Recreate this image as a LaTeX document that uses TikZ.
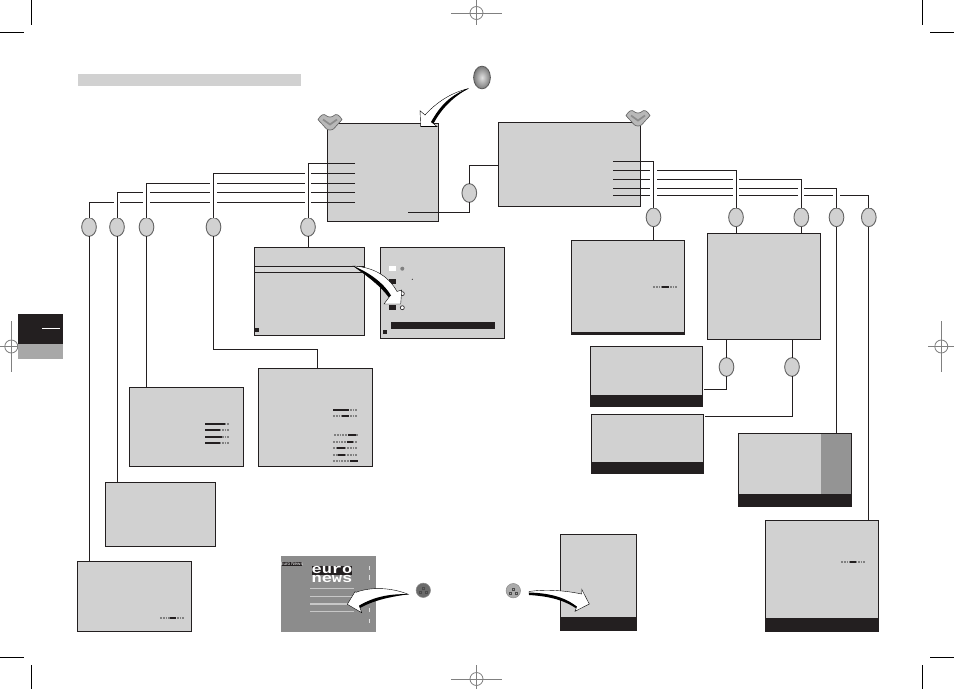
\documentclass[tikz,border=0pt]{standalone}
\usepackage{fontspec}
\setmainfont{Liberation Sans}
\setmonofont{Liberation Mono}
\usetikzlibrary{shapes.geometric,calc}
\definecolor{panel}{HTML}{D1D1D1}
\definecolor{ink}{HTML}{231F20}
\definecolor{regmark}{HTML}{808080}
\tikzset{
  x=0.75pt,y=-0.75pt,
  screen/.style={draw=ink,fill=panel,line width=0.8pt,inner sep=0pt,outer sep=0pt},
  wire/.style={draw=ink,line width=0.75pt},
  gapcut/.style={draw=white,line width=4.6pt},
  badge/.style={ellipse,draw=black!60,fill=panel,line width=0.7pt,minimum width=11pt,minimum height=14pt,inner sep=0pt,outer sep=0pt},
  crop/.style={draw=black,line width=0.75pt},
  reg/.style={draw=regmark,line width=0.6pt},
  curvefill/.style={fill=white,draw=black,line width=0.3pt,line join=miter},
  gaugedash/.style={draw=black!50,line width=1.4pt,dash pattern=on 1.4pt off 0.7pt},
  gaugebar/.style={draw=ink,line width=1.6pt}
}
% a menu panel given by its corners in pixels
\newcommand{\menupanel}[5]{\node[screen,minimum width={(#4-#2)*0.75pt},minimum height={(#5-#3)*0.75pt}] (#1) at ({(#2+#4)/2},{(#3+#5)/2}) {};}
% horizontal run from a menu line to a badge, with a break in the lines it crosses
\newcommand{\tapline}[2]{%
  \draw[gapcut] ([yshift=-3.5pt]#1 -| #2.north) -- (#2.north);
  \draw[wire] (#1) -| (#2.north);}
% level gauge: dashes, solid part, dashes
\newcommand{\levelgauge}[5]{%
  \draw[gaugedash] (#2,#1) -- (#5,#1);
  \draw[gaugebar] (#3,#1) -- (#4,#1);}
% registration target
\newcommand{\regtarget}[6]{%
  \draw[reg] (#1,#2) circle[radius=6.5];
  \draw[reg] (#3,#2) -- (#4,#2);
  \draw[reg] (#1,#5) -- (#1,#6);}
% menu button emblem
\newcommand{\emblem}[3]{%
  \begin{scope}[shift={(#2,#3)}]
    \node[inner sep=0pt,minimum size=0pt] (#1) at (0,0) {};
    \fill[black!28,draw=black!60,line width=0.5pt] (-12,-2) .. controls (-9,-7) and (-6,-8) .. (-4,-6) .. controls (-2,-4) and (2,-4) .. (4,-6) .. controls (6,-8) and (9,-7) .. (12,-2) .. controls (9,2) and (6,4) .. (4,7) .. controls (2,9) and (-2,9) .. (-4,7) .. controls (-6,4) and (-9,2) .. (-12,-2) -- cycle;
    \draw[black!45,line width=1.3pt] (-7,-2) -- (0,3) -- (7,-2);
  \end{scope}}
\begin{document}
\begin{tikzpicture}
\useasboundingbox[fill=white] (0,0) rectangle (954,689);

% trim marks
\draw[crop] (0,32.5) -- (24,32.5);
\draw[crop] (31.5,0) -- (31.5,24.5);
\draw[crop] (930,32.5) -- (954,32.5);
\draw[crop] (922.5,0) -- (922.5,24.5);
\draw[crop] (0,657.5) -- (24,657.5);
\draw[crop] (31.5,665) -- (31.5,689);
\draw[crop] (930,657.5) -- (954,657.5);
\draw[crop] (922.5,665) -- (922.5,689);

\regtarget{476.5}{13}{451}{502}{0}{25}
\regtarget{476.5}{679}{451}{502}{665}{689}
\regtarget{11.3}{346.5}{0}{24}{321}{372}
\regtarget{941.3}{346.5}{928}{954}{321}{372}

% side tab
\fill[ink] (18,314) rectangle (63,344);
\fill[black!34] (18,344) rectangle (63,359);
\draw[white,line width=0.75pt] (42,328.5) -- (60,328.5);

% heading strip
\fill[panel] (78,74) rectangle (301,85.5);

% menu panels
\menupanel{mainL}{327.5}{123.5}{438.5}{221.5}
\menupanel{mainR}{498.5}{122.5}{640.5}{206.5}
\menupanel{subA}{254.5}{247.5}{364.5}{335.5}
\menupanel{subB}{380.5}{247.5}{504.5}{338.5}
\menupanel{picH}{129.5}{387.5}{243.5}{466.5}
\menupanel{picI}{258.5}{368.5}{372.5}{466.5}
\menupanel{progJ}{105.5}{482.5}{215.5}{546.5}
\menupanel{progK}{77.5}{561.5}{191.5}{631.5}
\menupanel{setA}{571.5}{240.5}{684.5}{333.5}
\menupanel{setB}{707.5}{233.5}{820.5}{339.5}
\menupanel{setC}{590.5}{346.5}{702.5}{406.5}
\menupanel{setD}{591.5}{414.5}{703.5}{473.5}
\menupanel{setE}{738.5}{433.5}{851.5}{506.5}
\menupanel{setF}{765.5}{520.5}{878.5}{631.5}
\menupanel{setG}{560.5}{534.5}{636.5}{630.5}

% footer bands and shaded strip
\fill[ink] (571,332) rectangle (685,334.5);
\fill[ink] (590,394.5) rectangle (703,407);
\fill[ink] (591,462) rectangle (704,474);
\fill[black!42] (821,434) rectangle (851,494);
\fill[ink] (738,494) rectangle (852,507);
\fill[ink] (765,618) rectangle (879,632);
\fill[ink] (560,617) rectangle (637,631);

% contents of the two submenus
\draw[ink,line width=0.7pt,fill=panel!85!white] (254.5,266.5) rectangle (363,272.5);
\fill[white] (359.5,266.7) rectangle (363,269);
\fill[ink] (255,328) rectangle (259,332);
\fill[white] (389,265.5) rectangle (396,271);
\fill[black!50] (402.3,268.7) circle[radius=2];
\fill[ink] (412.3,279.3) circle[radius=0.6];
\fill[ink] (389,279) rectangle (396,283.7);
\fill[ink] (389,305) rectangle (396,310);
\draw[ink,fill=white,line width=0.5pt] (402.3,293.7) circle[radius=2];
\draw[ink,fill=white,line width=0.5pt] (402.3,307.7) circle[radius=2];
\fill[ink] (391,322) rectangle (495,329);
\fill[ink] (383,330) rectangle (387,334);

% level gauges
\levelgauge{423.7}{205}{205}{225}{230}
\levelgauge{429.7}{205}{205}{220}{230}
\levelgauge{437}{205}{205}{222}{229}
\levelgauge{442.7}{205}{205}{220}{230}
\levelgauge{410}{333}{333}{349.3}{357}
\levelgauge{416}{333}{341.7}{349.3}{357}
\levelgauge{435}{334}{348}{356}{358}
\levelgauge{442}{333}{346.5}{353}{357}
\levelgauge{448}{333}{337}{344.5}{357}
\levelgauge{454.7}{333}{338}{344.5}{357}
\levelgauge{461}{333}{350}{357.5}{358}
\levelgauge{617.7}{160}{170}{176}{185}
\levelgauge{287}{653}{661.7}{669.3}{677}
\levelgauge{562}{841}{850}{856}{866}

% badges
\node[badge] (bA) at (89,227) {};
\node[badge] (bB) at (117,227) {};
\node[badge] (bC) at (146.5,227) {};
\node[badge] (bD) at (213.5,227) {};
\node[badge] (bE) at (308,227) {};
\node[badge] (bLink) at (469.3,193) {};
\node[badge] (bF) at (653.5,217.3) {};
\node[badge] (bG) at (736,217.3) {};
\node[badge] (bH) at (801.3,217.3) {};
\node[badge] (bI) at (836.5,217.3) {};
\node[badge] (bJ) at (868.8,217.3) {};
\node[badge] (bK) at (726.5,367) {};
\node[badge] (bL) at (792,367) {};

% menu lines of the left main panel
\coordinate (la) at (355,163.5);
\coordinate (lb) at (355,173.5);
\coordinate (lc) at (355,183.5);
\coordinate (ld) at (355,192.5);
\coordinate (le) at (355,202.5);
\tapline{le}{bA}
\tapline{ld}{bB}
\tapline{lc}{bC}
\tapline{lb}{bD}
\tapline{la}{bE}

% menu lines of the right main panel
\coordinate (ra) at (613,161.5);
\coordinate (rb) at (613,170.5);
\coordinate (rc) at (613,179.5);
\coordinate (rd) at (613,188.5);
\coordinate (re) at (613,195.5);
\tapline{re}{bJ}
\tapline{rd}{bI}
\tapline{rc}{bH}
\tapline{rb}{bG}
\tapline{ra}{bF}

% links between panels
\coordinate (lnk) at (408,212);
\coordinate (lnkTop) at (498,165.5);
\draw[wire] (lnk) -| (bLink.south);
\draw[wire] (bLink.north) |- (lnkTop);
\draw[wire] (bA.south) -- (bA.south |- progK.north);
\draw[wire] (bB.south) -- (bB.south |- progJ.north);
\draw[wire] (bC.south) -- (bC.south |- picH.north);
\coordinate (bendD) at (317,349);
\draw[wire] (bD.south) |- (bendD) -- (bendD |- picI.north);
\draw[wire] (bE.south) -- (bE.south |- subA.north);
\draw[wire] (bF.south) -- (bF.south |- setA.north);
\draw[wire] (bG.south) -- (bG.south |- setB.north);
\draw[wire] (bH.south) -- (bH.south |- setB.north);
\draw[wire] (bI.south) -- (bI.south |- setE.north);
\draw[wire] (bJ.south) -- (bJ.south |- setF.north);
\draw[wire] (bK.north) -- (bK.north |- setB.south);
\draw[wire] (bL.north) -- (bL.north |- setB.south);
\coordinate (endK) at (704,389.5);
\coordinate (endL) at (705,416.5);
\draw[wire] (bK.south) |- (endK);
\draw[wire] (bL.south) |- (endL);

% menu button and emblems
\node[ellipse,draw=black!65,line width=0.6pt,shade,inner color=black!12,outer color=black!52,minimum width=12.6pt,minimum height=17pt,inner sep=0pt] (menuKey) at (482,77.5) {};
\emblem{emA}{330}{121.5}
\emblem{emB}{638}{117.5}

% teletext page
\fill[black!45] (281,556) rectangle (376,632);
\fill[ink] (281.5,561.5) rectangle (302,565.7);
\node[text=white,font=\fontsize{3.4}{3.4}\selectfont,inner sep=0pt] (pageTag) at (291.7,563.6) {Euro News};
\fill[ink] (312,565.7) rectangle (352,574.5);
\node[text=white,font=\ttfamily\bfseries\fontsize{10}{10}\selectfont,inner sep=0pt] (wordA) at (332,570) {\scalebox{1.28}[1]{euro}};
\node[text=white,font=\ttfamily\bfseries\fontsize{10}{10}\selectfont,inner sep=0pt] (wordB) at (332,579.3) {\scalebox{1.28}[1]{news}};
\foreach \yy in {588.7,596.7,604,611.7}
  \draw[black!22,line width=1pt] (310,\yy) -- (354,\yy);
\foreach \ya/\yb in {566/570,575/580,590/594,608/612,619/623}
  \draw[black!12,line width=0.5pt] (369.7,\ya) -- (369.7,\yb);

% coloured keys
\node[circle,draw=black!45,fill=black!58,minimum size=10.8pt,inner sep=0pt] (keyA) at (423.3,590.3) {};
\node[circle,draw=black!45,fill=black!33,minimum size=10.8pt,inner sep=0pt] (keyB) at (513.3,590.7) {};
\foreach \k in {keyA,keyB}{
  \draw[black!70,line width=0.2pt] ([shift={(-1,-3)}]\k.center) rectangle ([shift={(1,-1)}]\k.center);
  \draw[black!70,line width=0.2pt] ([shift={(-4,1)}]\k.center) rectangle ([shift={(-2,3)}]\k.center);
  \draw[black!70,line width=0.2pt] ([shift={(2,1)}]\k.center) rectangle ([shift={(4,3)}]\k.center);
}

% curved pointers
\draw[curvefill] (468.5,88.5) .. controls (450,93) and (436,103) .. (425,115) -- (420,110.7) -- (420.7,126.7) -- (437.3,126.7) -- (431.7,122.3) .. controls (441,106) and (452,96) .. cycle;
\fill[black] (468.5,88.5) .. controls (450,95) and (440,106) .. (431,122) -- (433.5,123.5) .. controls (442,108) and (453,97) .. cycle;
\fill[black] (420.7,125.7) rectangle (437.3,126.9);

\draw[curvefill] (353.3,266) .. controls (372,267) and (388,275) .. (397,291.5) -- (401.7,290) -- (400.7,304) -- (384,304) -- (389,297.3) .. controls (380,285) and (366,275) .. cycle;
\fill[black] (353.3,266) .. controls (366,275) and (380,285) .. (389,297.3) -- (391,295.5) .. controls (383,282) and (368,272) .. cycle;

\draw[curvefill] (408.3,594.3) .. controls (390,587) and (370,587) .. (356,592.3) -- (355,591.7) -- (347.3,604.3) -- (361.7,612.7) -- (359.3,605.7) .. controls (374,598) and (392,595) .. cycle;
\fill[black] (408.3,594.3) .. controls (390,593.5) and (373,597) .. (359.3,605.7) -- (360,608) .. controls (374,600) and (392,596.5) .. cycle;

\draw[curvefill] (529,591.5) .. controls (546,589) and (565,590.5) .. (581.7,594) -- (581.7,589.3) -- (589.3,604) -- (575,611.3) -- (576.7,606.7) .. controls (564,598) and (546,595) .. (529,594.3) -- cycle;
\fill[black] (529,592.5) .. controls (546,593) and (564,596) .. (576.7,606.7) -- (575.5,608) .. controls (562,599) and (546,596) .. (529,595) -- cycle;
\end{tikzpicture}
\end{document}
